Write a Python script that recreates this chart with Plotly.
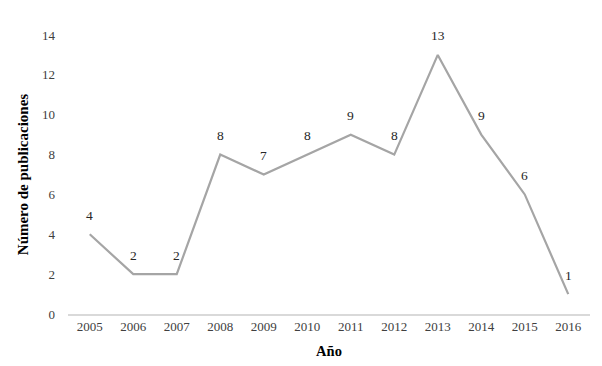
import plotly.graph_objects as go

years = ["2005", "2006", "2007", "2008", "2009", "2010", "2011", "2012", "2013", "2014", "2015", "2016"]
publicaciones = [4, 2, 2, 8, 7, 8, 9, 8, 13, 9, 6, 1]
y_ticks = [0, 2, 4, 6, 8, 10, 12, 14]

font_family = "Liberation Serif, DejaVu Serif, serif"
xs = list(range(len(years)))

fig = go.Figure()
fig.add_trace(go.Scatter(
    x=xs,
    y=publicaciones,
    mode="lines",
    line=dict(color="#A5A5A5", width=2.2),
    hoverinfo="skip",
))

for xv, yv in zip(xs, publicaciones):
    fig.add_annotation(
        x=xv, y=yv, text=str(yv), showarrow=False,
        yshift=19, font=dict(family=font_family, size=13.5, color="#262626"),
    )

fig.update_layout(
    width=594, height=358,
    margin=dict(l=60, r=12, t=27, b=52),
    paper_bgcolor="white", plot_bgcolor="white",
    showlegend=False,
    font=dict(family=font_family, size=13, color="#595959"),
    xaxis=dict(
        tickmode="array",
        tickvals=xs,
        ticktext=years,
        range=[-0.5, len(years) - 0.5],
        showgrid=False, zeroline=False,
        showline=True, linecolor="#D9D9D9", linewidth=1.5,
        ticks="",
        automargin=False,
        tickfont=dict(family=font_family, size=13, color="#404040"),
        title=dict(text="<b>Año</b>", font=dict(family=font_family, size=14.5, color="#000000"), standoff=13),
    ),
    yaxis=dict(
        range=[0, 14],
        tickmode="array",
        tickvals=y_ticks,
        showgrid=False, zeroline=False, showline=False,
        ticks="",
        automargin=False,
        ticklabelstandoff=12,
        tickfont=dict(family=font_family, size=13, color="#404040"),
        title=dict(text="<b>Número de publicaciones</b>", font=dict(family=font_family, size=15, color="#000000"), standoff=9),
    ),
)

fig.write_html("out.html")
